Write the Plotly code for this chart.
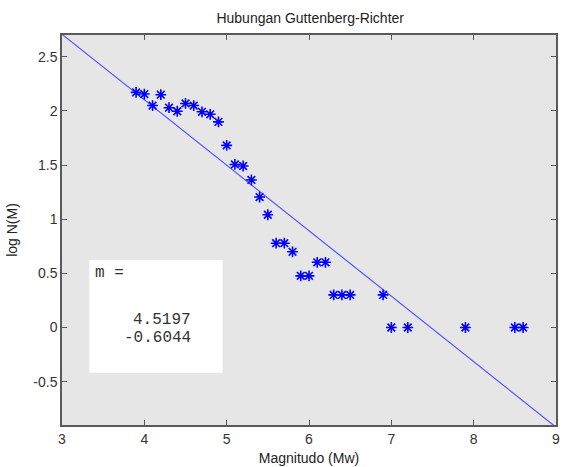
import plotly.graph_objects as go

# Magnitude bins and log10 of event counts
magnitude = [3.9, 4.0, 4.1, 4.2, 4.3, 4.4, 4.5, 4.6, 4.7, 4.8, 4.9,
             5.0, 5.1, 5.2, 5.3, 5.4, 5.5, 5.6, 5.7, 5.8, 5.9, 6.0,
             6.1, 6.2, 6.3, 6.4, 6.5, 6.9, 7.0, 7.2, 7.9, 8.5, 8.6]
log_n = [2.170, 2.155, 2.049, 2.149, 2.029, 1.996, 2.068, 2.049, 1.991, 1.968, 1.898,
         1.681, 1.505, 1.491, 1.362, 1.204, 1.041, 0.778, 0.778, 0.699, 0.477, 0.477,
         0.602, 0.602, 0.301, 0.301, 0.301, 0.301, 0.0, 0.0, 0.0, 0.0, 0.0]

# Linear fit coefficients: log N = a + b*M
fit_a = 4.5197
fit_b = -0.6044
fit_x = [3, 9]
fit_y = [fit_a + fit_b * x for x in fit_x]

x_ticks = [3, 4, 5, 6, 7, 8, 9]
y_ticks = [-0.5, 0, 0.5, 1, 1.5, 2, 2.5]

sans = "Liberation Sans, Arial, sans-serif"

fig = go.Figure()
fig.add_trace(go.Scatter(
    x=fit_x, y=fit_y, mode="lines",
    line=dict(color="rgb(85,85,255)", width=1.2),
    showlegend=False, hoverinfo="skip",
))
fig.add_trace(go.Scatter(
    x=magnitude, y=log_n, mode="markers",
    marker=dict(symbol="asterisk-open", size=9, color="#0000ff",
                line=dict(color="#0000ff", width=1.6)),
    showlegend=False,
))

axis_common = dict(
    showgrid=False, zeroline=False,
    showline=True, linecolor="#5a5a5a", linewidth=1.5, mirror="ticks",
    ticks="inside", ticklen=5, tickcolor="#5a5a5a", tickwidth=1.2,
    tickfont=dict(family=sans, size=14, color="#333333"),
)

fig.update_layout(
    width=563, height=467,
    margin=dict(l=62, r=3, t=35, b=42),
    paper_bgcolor="white", plot_bgcolor="#e6e6e6",
    title=dict(text="Hubungan Guttenberg-Richter", x=0.551, xanchor="center",
               y=0.962, yanchor="middle",
               font=dict(family=sans, size=14, color="#222222")),
    xaxis=dict(range=[3, 9], tickvals=x_ticks, ticktext=[str(v) for v in x_ticks],
               title=dict(text="Magnitudo (Mw)", standoff=8,
                          font=dict(family=sans, size=14, color="#222222")),
               **axis_common),
    yaxis=dict(range=[-0.9, 2.7], tickvals=y_ticks, ticktext=[f"{v:g}" for v in y_ticks],
               title=dict(text="log N(M)", standoff=12,
                          font=dict(family=sans, size=14, color="#222222")),
               **axis_common),
)

# White text panel with the fitted coefficients
fig.add_shape(type="rect", xref="paper", yref="paper",
              x0=0.0554, x1=0.325, y0=0.134, y1=0.423,
              fillcolor="white", line=dict(width=0), layer="above")

mono = dict(family="Liberation Mono, Courier New, monospace", size=16, color="#333333")
fig.add_annotation(xref="paper", yref="paper", x=0.062, y=0.391, xanchor="left", yanchor="middle",
                   text="m =", showarrow=False, font=mono)
fig.add_annotation(xref="paper", yref="paper", x=0.265, y=0.269, xanchor="right", yanchor="middle",
                   text=f"{fit_a:.4f}", showarrow=False, font=mono)
fig.add_annotation(xref="paper", yref="paper", x=0.265, y=0.223, xanchor="right", yanchor="middle",
                   text=f"{fit_b:.4f}", showarrow=False, font=mono)

fig.write_html("out.html")
